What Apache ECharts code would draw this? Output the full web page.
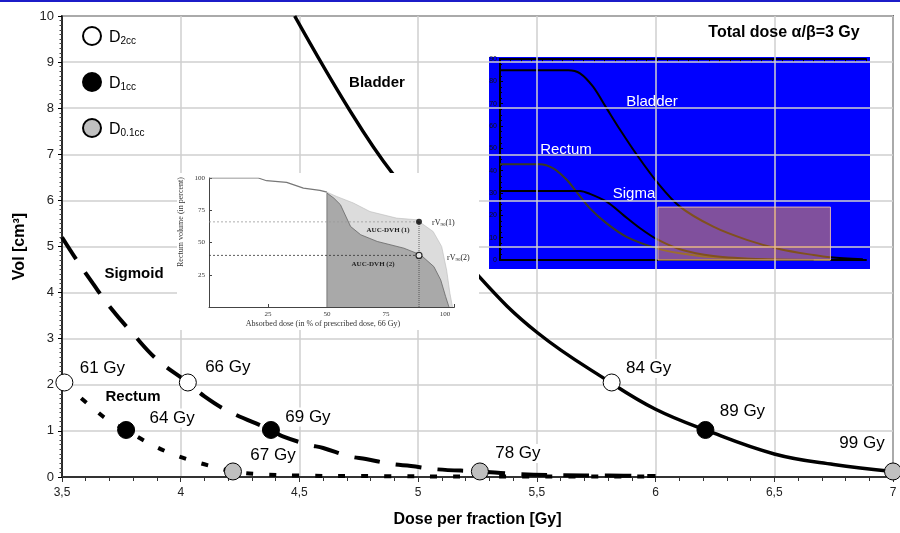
<!DOCTYPE html>
<html><head><meta charset="utf-8">
<script src="https://cdn.jsdelivr.net/npm/echarts@6/dist/echarts.min.js"></script>
<style>html,body{margin:0;padding:0;background:#fff}#c{width:900px;height:533px}</style>
</head><body><div id="c"></div>
<script>
// ---- main chart data ----
const bladder = [[4.48,10],[4.71,7.97],[4.89,6.6],[5.26,4.33],[5.5,3.14],[5.81,2.05],[6.0,1.47],[6.21,1.02],[6.5,0.5],[6.75,0.27],[7.0,0.12]];
const sigmoid = [[3.5,5.2],[3.56,4.72],[3.63,4.2],[3.7,3.7],[3.8,3.1],[3.9,2.55],[4.03,2.05],[4.1,1.75],[4.2,1.43],[4.38,1.02],[4.43,0.88],[4.54,0.7],[4.6,0.63],[4.71,0.45],[4.78,0.39],[4.89,0.28],[4.97,0.24],[5.07,0.17],[5.26,0.12],[5.4,0.07],[5.6,0.04],[5.8,0.03],[6.0,0.02]];
const rectum = [[3.51,2.05],[3.55,1.85],[3.62,1.54],[3.69,1.25],[3.77,1.02],[3.86,0.75],[3.95,0.53],[4.05,0.35],[4.14,0.22],[4.22,0.12],[4.33,0.06],[4.5,0.03],[4.8,0.02],[5.2,0.01],[6.0,0.01]];
const d2ccPts = [[3.51,2.05],[4.03,2.05],[5.815,2.05]];
const d2ccLabels = ['61 Gy','66 Gy','84 Gy'];
const d1ccPts = [[3.77,1.02],[4.38,1.02],[6.21,1.02]];
const d1ccLabels = ['64 Gy','69 Gy','89 Gy'];
const d01ccPts = [[4.22,0.12],[5.26,0.12],[7.0,0.12]];
const d01ccLabels = ['67 Gy','78 Gy','99 Gy'];
const legendNames = ['D2cc','D1cc','D0.1cc'];
const xTickLabel = v => String(v).replace('.', ',');

// ---- inset 1 (DVH) data ----
const dvhTop = [[0,100],[20.9,100],[24.4,97.9],[32.9,96.6],[40,92.2],[47,90.4],[50,89]];
const dvhOuter = [[50,0],[50,89],[54.1,85.7],[61.2,80.6],[68.2,74],[79.5,68.9],[88,67.6],[95,58.5],[98.6,46.9],[100.7,28.7],[102.1,10.6],[103.2,0]];
const dvhInner = [[50,0],[50,88.3],[52.9,84.4],[55.7,79.3],[60,62.4],[64.3,56],[71.3,50.8],[82.6,45.6],[89.7,40.4],[95.3,31.3],[98.2,21],[100.3,8],[101.7,0]];
const rv1 = [[89,66]];
const rv2 = [[89,40]];
const rvLine1 = [[0,66],[89,66]];
const rvLine2 = [[0,40],[89,40]];
const rvVert = [[89,0],[89,66]];
const dvhTicks = [25,50,75,100];

// ---- inset 2 (blue DVH) data ----
const ovBladder = [[0,85],[6.53,85],[7.65,83.6],[8.9,77.6],[10.2,67.9],[11.5,58.2],[13.1,47],[15,35],[17.2,23.9],[20.4,14.9],[23.6,9],[26.8,4.8],[30,2.2],[31.6,1.2],[34.7,0.3]];
const ovRectum = [[0,42.9],[3.8,42.9],[5.1,41],[6.4,35.8],[7.3,30.6],[8.6,23.1],[10.2,16.4],[12.1,10.4],[15,5.2],[17.2,3],[20.4,1.2],[25.2,0.3],[31.6,0]];
const ovSigma = [[0,30.9],[7.65,30.9],[8.6,29.6],[10.2,26.1],[11.8,20.1],[13.4,14.2],[15,9.3],[17.2,4.8],[20.4,1.8],[25.2,0.3],[30,0]];
const ovBox = [[15.1,0],[31.6,23.7]];

// ---- styles ----
const SANS = '"Liberation Sans", Arial, sans-serif';
const SERIF = '"Liberation Serif", "DejaVu Serif", serif';
const d2ccOffsets = [[38,-14],[40,-15],[37,-14]];
const d1ccOffsets = [[46,-12],[37,-13],[37,-19]];
const d01ccOffsets = [[40,-16],[38,-18],[-31,-28]];

function markerSeries(name, pts, labels, offsets, fill) {
  return {
    type: 'scatter', name, xAxisIndex: 0, yAxisIndex: 0, symbol: 'circle', symbolSize: 17, z: 6,
    itemStyle: { color: fill, borderColor: '#000', borderWidth: 1, opacity: 1 },
    label: { show: true, position: 'inside', formatter: p => p.name, fontSize: 17, color: '#000',
      fontFamily: SANS, backgroundColor: '#fff', padding: [1, 2] },
    emphasis: { disabled: true },
    data: pts.map((p, i) => ({ value: p, name: labels[i], label: { offset: offsets[i] } }))
  };
}

function lineS(data, xi, yi, style, extra) {
  return Object.assign({ type: 'line', data, xAxisIndex: xi, yAxisIndex: yi, symbol: 'none',
    lineStyle: style, emphasis: { disabled: true }, silent: true }, extra || {});
}

const insetAxisGrey = { lineStyle: { color: '#444', width: 1 } };

const option = {
  animation: false,
  backgroundColor: '#fff',
  grid: [
    { left: 62, right: 7, top: 16, bottom: 55, show: true, borderColor: '#000', borderWidth: 1.5, backgroundColor: 'transparent' },
    { left: 209, top: 178, width: 245.4, height: 129 },
    { left: 500, top: 59, width: 366, height: 201 }
  ],
  legend: {
    orient: 'vertical', left: 77, top: 21, itemWidth: 18, itemHeight: 18, itemGap: 26,
    data: legendNames.map(n => ({ name: n, icon: 'circle' })),
    formatter: n => '{d|D}{s|' + n.slice(1) + '}',
    textStyle: { rich: {
      d: { fontSize: 16, lineHeight: 20, fontFamily: SANS, color: '#000', verticalAlign: 'bottom', padding: [0, 0, 0, 3] },
      s: { fontSize: 10, lineHeight: 10, fontFamily: SANS, color: '#000', verticalAlign: 'bottom' }
    } },
    selectedMode: false
  },
  xAxis: [
    { gridIndex: 0, type: 'value', min: 3.5, max: 7, interval: 0.5, z: 0,
      name: 'Dose per fraction [Gy]', nameLocation: 'middle', nameGap: 35,
      nameTextStyle: { fontSize: 16, fontWeight: 'bold', fontFamily: SANS, color: '#000' },
      axisLine: { show: true, lineStyle: { color: '#333', width: 2 } },
      axisTick: { show: true, length: 5, lineStyle: { color: '#333' } },
      minorTick: { show: true, splitNumber: 5, length: 4, lineStyle: { color: '#333' } },
      axisLabel: { formatter: xTickLabel, fontSize: 12, color: '#222', fontFamily: SANS, margin: 10 },
      splitLine: { show: true, lineStyle: { color: '#cfcfcf', width: 1.5 } } },
    { gridIndex: 1, type: 'value', min: 0, max: 104, interval: 25, z: 11,
      axisLine: insetAxisGrey, axisTick: { inside: true, length: 3, lineStyle: { color: '#444' } },
      axisLabel: { fontSize: 7, fontFamily: SERIF, color: '#333', margin: 4, formatter: v => dvhTicks.includes(v) ? String(v) : '' },
      splitLine: { show: false } },
    { gridIndex: 2, type: 'value', min: 0, max: 35, z: -5,
      axisLine: { show: true, lineStyle: { color: '#000', width: 2 } },
      axisTick: { show: false }, axisLabel: { show: false }, splitLine: { show: false } },
    { gridIndex: 2, type: 'value', min: 0, max: 35, interval: 1, position: 'top', z: -5,
      axisLine: { show: true, lineStyle: { color: '#000', width: 2 } },
      axisTick: { show: true, inside: true, length: 3, lineStyle: { color: '#000' } },
      axisLabel: { show: false }, splitLine: { show: false } }
  ],
  yAxis: [
    { gridIndex: 0, type: 'value', min: 0, max: 10, interval: 1, z: 0,
      name: 'Vol [cm³]', nameLocation: 'middle', nameGap: 34, nameRotate: 90,
      nameTextStyle: { fontSize: 16, fontWeight: 'bold', fontFamily: SANS, color: '#000' },
      axisLine: { show: true, lineStyle: { color: '#000', width: 1.5 } },
      axisTick: { show: true, length: 4, lineStyle: { color: '#000' } },
      minorTick: { show: true, splitNumber: 10, length: 2.5, lineStyle: { color: '#444' } },
      axisLabel: { fontSize: 13, color: '#222', fontFamily: SANS, margin: 8 },
      splitLine: { show: true, lineStyle: { color: '#cfcfcf', width: 1.5 } } },
    { gridIndex: 1, type: 'value', min: 0, max: 100, interval: 25, z: 11,
      axisLine: Object.assign({ show: true }, insetAxisGrey),
      axisTick: { show: true, inside: true, length: 3, lineStyle: { color: '#444' } },
      axisLabel: { fontSize: 7, fontFamily: SERIF, color: '#333', margin: 4, formatter: v => v === 0 ? '' : String(v) },
      splitLine: { show: false } },
    { gridIndex: 2, type: 'value', min: 0, max: 90, interval: 10, z: -5,
      axisLine: { show: true, lineStyle: { color: '#000', width: 2 } },
      axisTick: { show: true, inside: true, length: 3, lineStyle: { color: '#000' } },
      minorTick: { show: true, splitNumber: 4, length: 2, lineStyle: { color: '#000' } },
      axisLabel: { fontSize: 7, color: '#111', fontFamily: SANS, margin: 3 },
      splitLine: { show: false } }
  ],
  series: [
    // main curves
    lineS(bladder, 0, 0, { color: '#000', width: 3.5 }, { name: 'Bladder', smooth: 0.4, z: 5 }),
    lineS(sigmoid, 0, 0, { color: '#000', width: 4, type: [26, 16] }, { name: 'Sigmoid', smooth: 0.4, z: 5 }),
    lineS(rectum, 0, 0, { color: '#000', width: 4, type: [7, 16] }, { name: 'Rectum', smooth: 0.4, z: 5 }),
    markerSeries('D2cc', d2ccPts, d2ccLabels, d2ccOffsets, '#ffffff'),
    markerSeries('D1cc', d1ccPts, d1ccLabels, d1ccOffsets, '#000000'),
    markerSeries('D0.1cc', d01ccPts, d01ccLabels, d01ccOffsets, '#c0c0c0'),
    // inset 1
    lineS(dvhTop, 1, 1, { color: '#777', width: 1.2 }, { z: 12 }),
    lineS(dvhOuter, 1, 1, { color: '#bbb', width: 0.6 }, { z: 12, areaStyle: { color: '#dcdcdc', opacity: 1 } }),
    lineS(dvhInner, 1, 1, { color: '#666', width: 0.8 }, { z: 12, areaStyle: { color: '#a9a9a9', opacity: 1 } }),
    lineS(rvLine1, 1, 1, { color: '#999', width: 0.8, type: [2, 2] }, { z: 13 }),
    lineS(rvLine2, 1, 1, { color: '#333', width: 0.8, type: [2, 2] }, { z: 13 }),
    lineS(rvVert, 1, 1, { color: '#444', width: 0.8, type: [1, 1] }, { z: 13 }),
    { type: 'scatter', data: rv1, xAxisIndex: 1, yAxisIndex: 1, symbolSize: 6, z: 14, silent: true,
      itemStyle: { color: '#000' } },
    { type: 'scatter', data: rv2, xAxisIndex: 1, yAxisIndex: 1, symbolSize: 6, z: 14, silent: true,
      itemStyle: { color: '#fff', borderColor: '#000', borderWidth: 1.2 } },
    // inset 2
    lineS(ovBladder, 2, 2, { color: '#000', width: 2 }, { smooth: 0.3, z: -5 }),
    lineS(ovRectum, 2, 2, { color: '#3a3a22', width: 2 }, { smooth: 0.3, z: -5 }),
    lineS(ovSigma, 2, 2, { color: '#000', width: 2 }, { smooth: 0.3, z: -5 }),
    { type: 'line', data: [], xAxisIndex: 2, yAxisIndex: 2, z: -4, silent: true,
      markArea: { silent: true,
        itemStyle: { color: 'rgba(255,160,60,0.5)', borderColor: 'rgba(255,210,170,0.8)', borderWidth: 1 },
        data: [[{ coord: ovBox[0] }, { coord: ovBox[1] }]] } }
  ],
  graphic: { elements: [
    { type: 'rect', shape: { x: 0, y: 0, width: 900, height: 2 }, style: { fill: '#1c1cc8' }, z: 20, silent: true },
    { type: 'rect', shape: { x: 489, y: 57, width: 381, height: 212 }, style: { fill: '#0000ff' }, z: -10, silent: true },
    { type: 'rect', shape: { x: 177, y: 173, width: 302, height: 157 }, style: { fill: '#ffffff' }, z: 10, silent: true },
    // main annotations
    { type: 'text', z: 7, style: { x: 377, y: 83, text: 'Bladder', font: 'bold 15px ' + SANS, fill: '#000', textAlign: 'center', textVerticalAlign: 'middle' } },
    { type: 'text', z: 7, style: { x: 134, y: 274, text: 'Sigmoid', font: 'bold 15px ' + SANS, fill: '#000', textAlign: 'center', textVerticalAlign: 'middle' } },
    { type: 'text', z: 7, style: { x: 133, y: 397, text: 'Rectum', font: 'bold 15px ' + SANS, fill: '#000', textAlign: 'center', textVerticalAlign: 'middle' } },
    { type: 'text', z: 7, style: { x: 784, y: 33, text: 'Total dose α/β=3 Gy', font: 'bold 16px ' + SANS, fill: '#000', textAlign: 'center', textVerticalAlign: 'middle' } },
    // inset 1 texts
    { type: 'text', z: 15, x: 181, y: 222, rotation: Math.PI / 2, style: { x: 0, y: 0, text: 'Rectum volume (in percent)', font: '8px ' + SERIF, fill: '#333', textAlign: 'center', textVerticalAlign: 'middle' } },
    { type: 'text', z: 15, style: { x: 323, y: 324, text: 'Absorbed dose (in % of prescribed dose, 66 Gy)', font: '8px ' + SERIF, fill: '#333', textAlign: 'center', textVerticalAlign: 'middle' } },
    { type: 'text', z: 15, style: { x: 388, y: 230, text: 'AUC-DVH (1)', font: 'bold 7px ' + SERIF, fill: '#222', textAlign: 'center', textVerticalAlign: 'middle' } },
    { type: 'text', z: 15, style: { x: 373, y: 264, text: 'AUC-DVH (2)', font: 'bold 7px ' + SERIF, fill: '#222', textAlign: 'center', textVerticalAlign: 'middle' } },
    { type: 'text', z: 15, style: { x: 432, y: 222, text: '{a|rV}{s|90}{a|(1)}', textVerticalAlign: 'middle', rich: {
      a: { fontSize: 8, fontFamily: SERIF, fill: '#222', color: '#222', lineHeight: 10, verticalAlign: 'bottom' },
      s: { fontSize: 5, fontFamily: SERIF, fill: '#222', color: '#222', lineHeight: 6, verticalAlign: 'bottom' } } } },
    { type: 'text', z: 15, style: { x: 447, y: 257, text: '{a|rV}{s|90}{a|(2)}', textVerticalAlign: 'middle', rich: {
      a: { fontSize: 8, fontFamily: SERIF, fill: '#222', color: '#222', lineHeight: 10, verticalAlign: 'bottom' },
      s: { fontSize: 5, fontFamily: SERIF, fill: '#222', color: '#222', lineHeight: 6, verticalAlign: 'bottom' } } } },
    // inset 2 texts
    { type: 'text', z: -4, style: { x: 652, y: 102, text: 'Bladder', font: '15px ' + SANS, fill: '#fff', textAlign: 'center', textVerticalAlign: 'middle' } },
    { type: 'text', z: -4, style: { x: 566, y: 150, text: 'Rectum', font: '15px ' + SANS, fill: '#fff', textAlign: 'center', textVerticalAlign: 'middle' } },
    { type: 'text', z: -4, style: { x: 634, y: 194, text: 'Sigma', font: '15px ' + SANS, fill: '#fff', textAlign: 'center', textVerticalAlign: 'middle' } }
  ] }
};

const chart = echarts.init(document.getElementById('c'), null, { renderer: 'canvas' });
chart.setOption(option);
</script></body></html>
